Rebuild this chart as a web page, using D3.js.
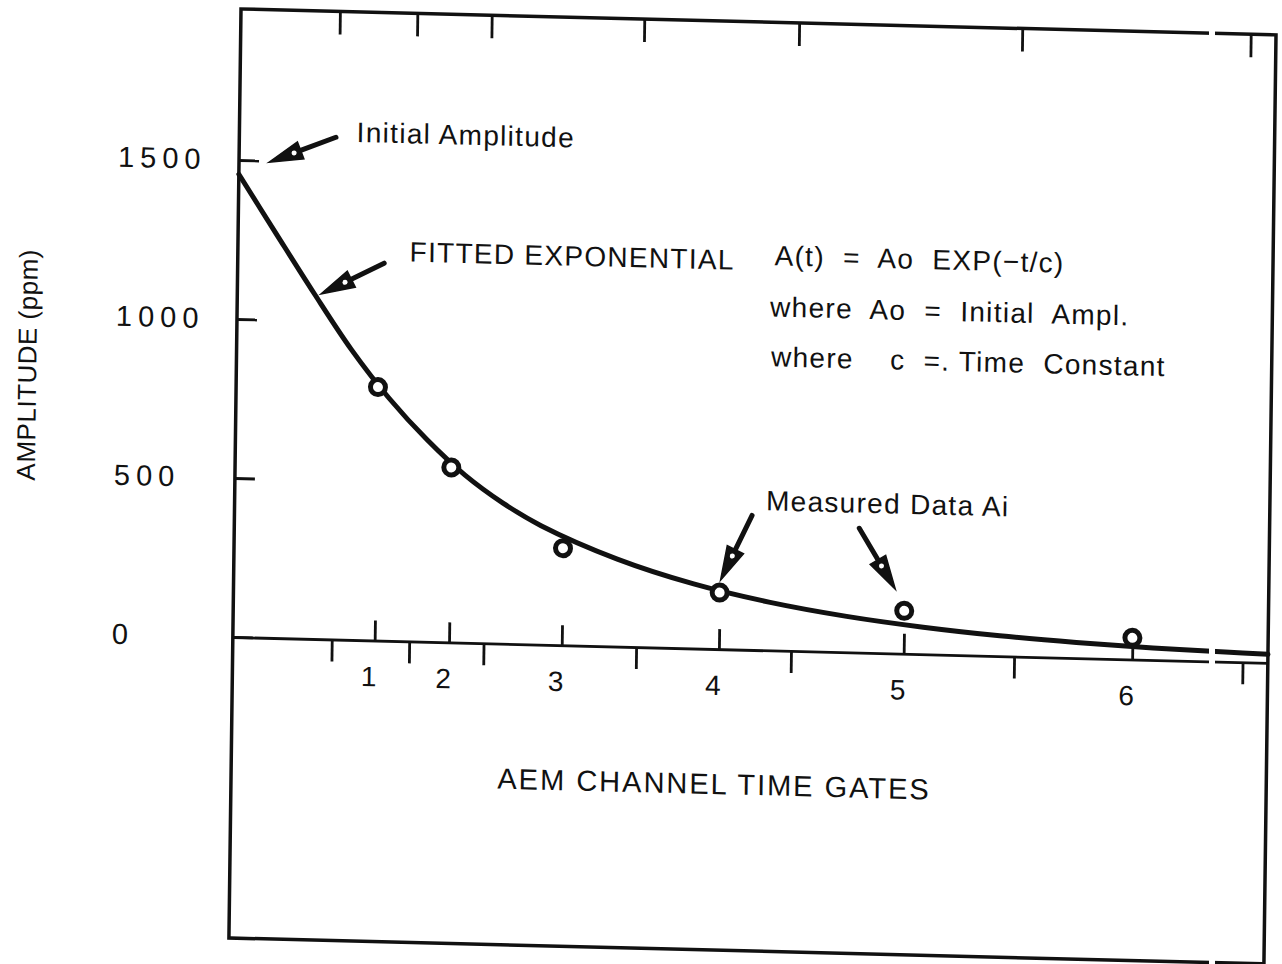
<!DOCTYPE html>
<html lang="en">
<head>
<meta charset="UTF-8">
<title>Fitted exponential decay</title>
<script src="https://d3js.org/d3.v7.min.js"></script>
<style>
  body { margin: 0; background: #fff; }
  svg text { font-family: "Liberation Sans", Arial, sans-serif; fill: #111; white-space: pre; }
</style>
</head>
<body>
<script>
// time gates (centre times) and the measured amplitude at each
const gateT = [1.85, 2.82, 4.29, 6.34, 8.75, 11.73];
const gateLabels = ["1", "2", "3", "4", "5", "6"];
const measured = [797, 550, 305, 178, 135, 68];
// gate edges
const gateEdges = [1.29, 2.30, 3.27, 5.26, 7.28, 10.19, 13.17];
// fitted curve
const fitT = [0, 0.5, 1, 1.5, 2, 2.5, 3, 3.5, 4, 5, 6, 7, 8, 9, 10, 11, 12, 13, 13.5];
const fitA = [1455, 1270, 1087, 912, 762, 635, 527, 442, 374, 275, 203, 151, 113, 85, 64, 49, 38, 30, 27];
const yTicks = [0, 500, 1000, 1500];

// notes, placed in data units
const notes = [
  {text: "Initial Amplitude", t: 1.53, v: 1566},
  {text: "FITTED EXPONENTIAL", t: 2.24, v: 1194},
  {text: "A(t)  =  Ao  EXP(\u2212t/c)", t: 7.0, v: 1211},
  {text: "where  Ao  =  Initial  Ampl.", t: 6.95, v: 1050},
  {text: "where    c  =. Time  Constant", t: 6.97, v: 893},
  {text: "Measured Data Ai", t: 6.93, v: 440}
];
const arrows = [
  {t0: 1.26, v0: 1579, t1: 0.39, v1: 1495},
  {t0: 1.91, v0: 1187, t1: 1.09, v1: 1085},
  {t0: 6.75, v0: 423, t1: 6.35, v1: 217},
  {t0: 8.15, v0: 391, t1: 8.63, v1: 202}
];

const W = 1282, H = 964;
const frameL = 241, frameR = 1276, frameT = 9, frameB = 938;

const svg = d3.select("body").append("svg")
  .attr("width", W).attr("height", H);

// the scan is slightly skewed, so the whole drawing sits in a sheared group
const g = svg.append("g")
  .attr("transform", "matrix(1,0.025,-0.013,1,0.12,-6.05)");

const x = d3.scaleLinear().domain([0, 13.5]).range([frameL, frameR]);
const y = d3.scaleLinear().domain([0, 1500]).range([637, 160]);

const ink = "#111";

// frame
g.append("rect")
  .attr("x", frameL).attr("y", frameT)
  .attr("width", frameR - frameL).attr("height", frameB - frameT)
  .attr("fill", "none").attr("stroke", ink).attr("stroke-width", 3.5);

// top edge ticks
g.append("g")
  .attr("transform", `translate(0,${frameT})`)
  .call(d3.axisBottom(x).tickValues(gateEdges).tickSize(23).tickFormat(""))
  .call(a => a.select(".domain").remove())
  .call(a => a.selectAll("line").attr("stroke", ink).attr("stroke-width", 2.8));

// zero line with gate edge ticks below
g.append("g")
  .attr("transform", `translate(0,${y(0)})`)
  .call(d3.axisBottom(x).tickValues(gateEdges).tickSize(22).tickFormat("").tickSizeOuter(0))
  .call(a => a.select(".domain").attr("stroke", ink).attr("stroke-width", 2.8))
  .call(a => a.selectAll("line").attr("stroke", ink).attr("stroke-width", 2.8));

// gate centre ticks above, with gate numbers
g.append("g")
  .attr("transform", `translate(0,${y(0)})`)
  .call(d3.axisBottom(x).tickValues(gateT).tickSize(-20).tickPadding(26)
    .tickFormat((d, i) => gateLabels[i]))
  .call(a => a.select(".domain").remove())
  .call(a => a.selectAll("line").attr("stroke", ink).attr("stroke-width", 2.8))
  .call(a => a.selectAll("text").attr("font-size", 28).attr("fill", ink)
    .attr("dx", -6)
    .attr("font-family", "Liberation Sans, Arial, sans-serif"));

// y axis: inward ticks, labels left aligned
g.append("g")
  .attr("transform", `translate(${frameL},0)`)
  .call(d3.axisLeft(y).tickValues(yTicks).tickSize(-20).tickFormat(d3.format("d")))
  .call(a => a.select(".domain").remove())
  .call(a => a.selectAll("line").attr("stroke", ink).attr("stroke-width", 2.8))
  .call(a => a.selectAll("text")
    .attr("x", 120 - frameL).attr("text-anchor", "start")
    .attr("font-size", 29).attr("letter-spacing", 6).attr("fill", ink)
    .attr("font-family", "Liberation Sans, Arial, sans-serif"));

// axis titles
g.append("text")
  .attr("transform", `translate(${41},${370}) rotate(-90)`)
  .attr("text-anchor", "middle")
  .attr("font-size", 26).attr("letter-spacing", 0.5)
  .text("AMPLITUDE (ppm)");

g.append("text")
  .attr("x", x(6.3)).attr("y", 782)
  .attr("text-anchor", "middle")
  .attr("font-size", 29).attr("letter-spacing", 2)
  .text("AEM CHANNEL TIME GATES");

// fitted curve
const fit = fitT.map((t, i) => [t, fitA[i]]);
g.append("path")
  .datum(fit)
  .attr("fill", "none").attr("stroke", ink).attr("stroke-width", 5)
  .attr("stroke-linecap", "round")
  .attr("d", d3.line().x(d => x(d[0])).y(d => y(d[1])).curve(d3.curveCatmullRom.alpha(0.5)));

// measured points
g.selectAll("circle.pt")
  .data(measured)
  .join("circle")
  .attr("class", "pt")
  .attr("cx", (d, i) => x(gateT[i]))
  .attr("cy", d => y(d))
  .attr("r", 7.5)
  .attr("fill", "#fff").attr("stroke", ink).attr("stroke-width", 5);

// notes
g.selectAll("text.note")
  .data(notes)
  .join("text")
  .attr("class", "note")
  .attr("x", d => x(d.t)).attr("y", d => y(d.v))
  .attr("font-size", 28).attr("letter-spacing", 1.3)
  .text(d => d.text);

// arrows with open triangular heads
arrows.forEach(a => {
  const x0 = x(a.t0), y0 = y(a.v0), x1 = x(a.t1), y1 = y(a.v1);
  const ang = Math.atan2(y1 - y0, x1 - x0);
  const len = 34, half = 9;
  const bx = x1 - len * Math.cos(ang), by = y1 - len * Math.sin(ang);
  const px = -Math.sin(ang) * half, py = Math.cos(ang) * half;
  g.append("line")
    .attr("x1", x0).attr("y1", y0).attr("x2", bx).attr("y2", by)
    .attr("stroke", ink).attr("stroke-width", 5).attr("stroke-linecap", "round");
  g.append("path")
    .attr("d", `M${x1},${y1}L${bx + px},${by + py}L${bx - px},${by - py}Z`)
    .attr("fill", ink).attr("stroke", ink).attr("stroke-width", 1.5);
  g.append("circle")
    .attr("cx", bx + 7 * Math.cos(ang)).attr("cy", by + 7 * Math.sin(ang))
    .attr("r", 2.5).attr("fill", "#fff");
});

// white strip left by the scanner
svg.append("rect")
  .attr("x", 1209).attr("y", 0).attr("width", 6).attr("height", H)
  .attr("fill", "#fff");
</script>
</body>
</html>
